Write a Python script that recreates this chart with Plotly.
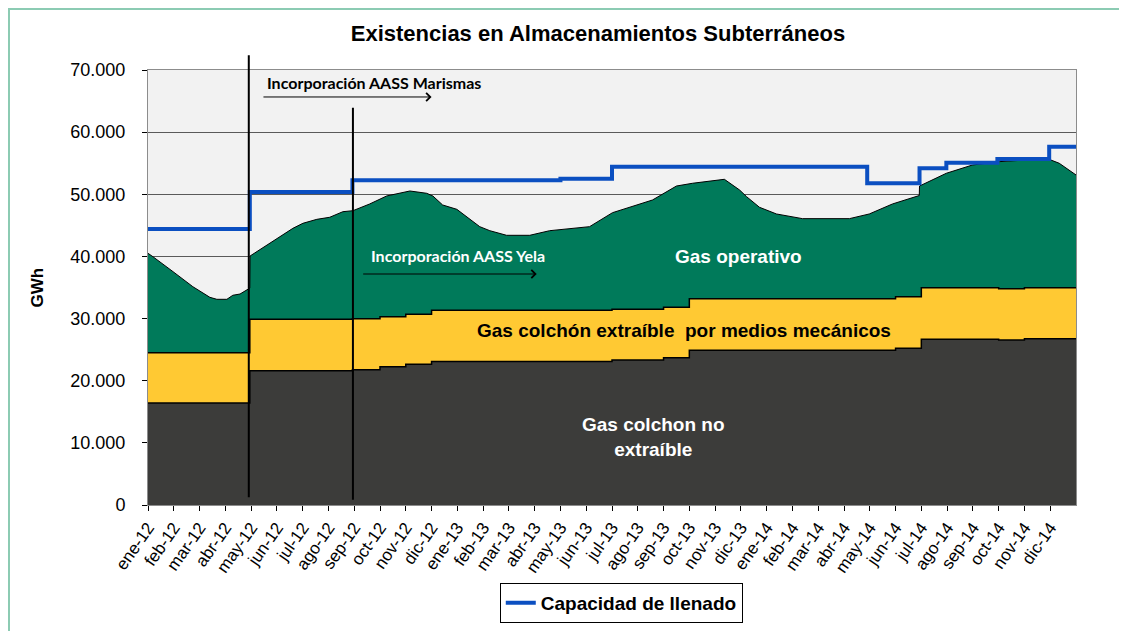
import plotly.graph_objects as go

# eje x en meses desde ene-12 (0 = ene-12, 36 = fin de dic-14)
meses = ["ene-12", "feb-12", "mar-12", "abr-12", "may-12", "jun-12", "jul-12", "ago-12",
         "sep-12", "oct-12", "nov-12", "dic-12", "ene-13", "feb-13", "mar-13", "abr-13",
         "may-13", "jun-13", "jul-13", "ago-13", "sep-13", "oct-13", "nov-13", "dic-13",
         "ene-14", "feb-14", "mar-14", "abr-14", "may-14", "jun-14", "jul-14", "ago-14",
         "sep-14", "oct-14", "nov-14", "dic-14"]

# Gas colchon no extraible (escalones)
x_no_extr = [0, 3.95, 7.93, 9, 10, 11, 18, 20, 21, 29, 30, 33, 34, 36]
no_extr = [16400, 21600, 21770, 22260, 22640, 23100, 23330, 23710, 24900,
           25210, 26660, 26550, 26770, 26770]

# techo del gas colchon extraible por medios mecanicos (acumulado)
x_colchon = [0, 3.95, 7.93, 9, 10, 11, 18, 20, 21, 29, 30, 33, 34, 36]
colchon_top = [24510, 29880, 29980, 30300, 30690, 31350, 31490, 31810, 33200,
               33520, 34970, 34810, 34970, 34970]

# existencias totales (techo del gas operativo)
x_total = [0, 0.19, 0.97, 1.74, 2.40, 2.67, 3.06, 3.29, 3.57, 3.84, 3.95, 3.96,
           4.84, 5.62, 6.01, 6.55, 7.05, 7.56, 7.95, 8.60, 9.26, 9.77, 10.16,
           10.81, 11.05, 11.43, 11.98, 12.87, 13.26, 13.91, 14.81, 15.58, 17.13,
           18.02, 19.07, 19.57, 20.50, 21.12, 22.36, 22.95, 23.22, 23.72, 24.38,
           25.39, 27.21, 27.98, 28.88, 29.81, 29.92, 29.93, 30.97, 31.98, 33.02,
           34.07, 34.96, 35.35, 36]
total = [40500, 39960, 37550, 35130, 33420, 33100, 33100, 33750, 33950, 34600, 34900, 40070,
         42370, 44520, 45330, 45970, 46300, 47200, 47360, 48440, 49730, 50160, 50530,
         50160, 49730, 48280, 47580, 44790, 44140, 43400, 43400, 44140, 44790,
         47040, 48440, 49080, 51330, 51770, 52410, 50690, 49620, 47910, 46830,
         46080, 46080, 46830, 48440, 49620, 49800, 51330, 53380, 54710, 55250,
         55520, 55620, 54990, 53110]

# capacidad de llenado
x_cap = [0, 3.95, 7.93, 16, 18, 27.9, 29.93, 30.97, 32.95, 34.96, 36.1]
capacidad = [44420, 50370, 52250, 52510, 54450, 51770, 54180, 55090, 55680, 57660, 57660]

# hitos (mes) de incorporacion de almacenamientos
hito_marismas = 3.91
hito_yela = 7.95

VERDE = "#007a5a"
AMARILLO = "#ffc933"
GRIS = "#3c3c3a"
AZUL = "#0b4fc1"

fig = go.Figure()
fig.add_trace(go.Scatter(x=x_total, y=total, mode="lines", fill="tozeroy",
                         fillcolor=VERDE, line=dict(color="black", width=1),
                         name="Gas operativo", showlegend=False))
fig.add_trace(go.Scatter(x=x_colchon, y=colchon_top, mode="lines", fill="tozeroy",
                         fillcolor=AMARILLO, line=dict(color="black", width=1.5, shape="hv"),
                         name="Gas colchón extraíble", showlegend=False))
fig.add_trace(go.Scatter(x=x_no_extr, y=no_extr, mode="lines", fill="tozeroy",
                         fillcolor=GRIS, line=dict(color="black", width=1.5, shape="hv"),
                         name="Gas colchon no extraíble", showlegend=False))
fig.add_trace(go.Scatter(x=x_cap, y=capacidad, mode="lines",
                         line=dict(color=AZUL, width=4, shape="hv"),
                         name="<b>Capacidad de llenado</b>"))

# lineas verticales de incorporacion
fig.add_shape(type="line", xref="x", yref="paper", x0=hito_marismas, x1=hito_marismas,
              y0=0.018, y1=1.034, line=dict(color="black", width=2))
fig.add_shape(type="line", xref="x", yref="paper", x0=hito_yela, x1=hito_yela,
              y0=0.012, y1=0.913, line=dict(color="black", width=2))

# marco exterior
fig.add_shape(type="rect", xref="paper", yref="paper", x0=-0.1498, x1=1.2,
              y0=-0.5, y1=1.140, line=dict(color="#8ccbb3", width=2), layer="below")

calibri = "Lato, Liberation Sans, sans-serif"
arial = "Liberation Sans, Arial, sans-serif"

fig.add_annotation(x=11.0, y=65660, ax=4.42, ay=65660, xref="x", yref="y",
                   axref="x", ayref="y", text="", showarrow=True, arrowhead=4,
                   arrowsize=1.6, arrowwidth=1, arrowcolor="black")
fig.add_annotation(x=4.53, y=67910, xref="x", yref="y", xanchor="left",
                   text="<b>Incorporación AASS Marismas</b>", showarrow=False,
                   font=dict(family=calibri, size=16, color="black"))
fig.add_annotation(x=15.08, y=37170, ax=8.29, ay=37170, xref="x", yref="y",
                   axref="x", ayref="y", text="", showarrow=True, arrowhead=4,
                   arrowsize=1.6, arrowwidth=1, arrowcolor="black")
fig.add_annotation(x=8.57, y=40070, xref="x", yref="y", xanchor="left",
                   text="<b>Incorporación AASS Yela</b>", showarrow=False,
                   font=dict(family=calibri, size=16, color="white"))

fig.add_annotation(x=22.9, y=40000, xref="x", yref="y", showarrow=False,
                   text="<b>Gas operativo</b>", font=dict(family=arial, size=19, color="white"))
fig.add_annotation(x=20.8, y=28100, xref="x", yref="y", showarrow=False,
                   text="<b>Gas colchón extraíble  por medios mecánicos</b>",
                   font=dict(family=arial, size=19, color="black"))
fig.add_annotation(x=19.6, y=11000, xref="x", yref="y", showarrow=False,
                   text="<b>Gas colchon no<br>extraíble</b>",
                   font=dict(family=arial, size=19, color="white"))

fig.add_annotation(x=-0.1196, y=0.5, xref="paper", yref="paper", textangle=-90,
                   xanchor="center", yanchor="middle",
                   text="<b>GWh</b>", showarrow=False, font=dict(family=arial, size=17, color="black"))

fig.update_layout(
    width=1127, height=631,
    margin=dict(l=140, r=59, t=62, b=134),
    paper_bgcolor="white", plot_bgcolor="#f2f2f2",
    separators=",.",
    font=dict(family=arial, size=16, color="black"),
    title=dict(text="<b>Existencias en Almacenamientos Subterráneos</b>",
               x=0.5235, xanchor="center", y=0.960, yanchor="middle",
               font=dict(family=arial, size=22, color="black")),
    showlegend=True,
    legend=dict(orientation="h", x=0.51, xanchor="center", y=-0.225, yanchor="middle",
                bgcolor="white", bordercolor="black", borderwidth=1,
                font=dict(family=arial, size=19, color="black"), itemwidth=30),
)
fig.update_xaxes(range=[0, 36], tickmode="array", tickvals=list(range(len(meses))),
                 ticktext=meses, tickangle=-55, ticks="outside", ticklen=5,
                 tickcolor="black", showgrid=False, zeroline=False, automargin=False,
                 showline=True, linecolor="#8c8c8c", mirror=True,
                 tickfont=dict(family=arial, size=17, color="black"))
fig.update_yaxes(range=[0, 70000], tickvals=[0, 10000, 20000, 30000, 40000, 50000, 60000, 70000],
                 tickformat=",.0f", ticks="outside", ticklen=5, tickcolor="black",
                 ticklabelstandoff=13,
                 showgrid=True, gridcolor="#5a5a5a", gridwidth=1, zeroline=False, automargin=False,
                 showline=True, linecolor="#8c8c8c", mirror=True,
                 tickfont=dict(family=arial, size=18, color="black"))

fig.write_html("out.html")
